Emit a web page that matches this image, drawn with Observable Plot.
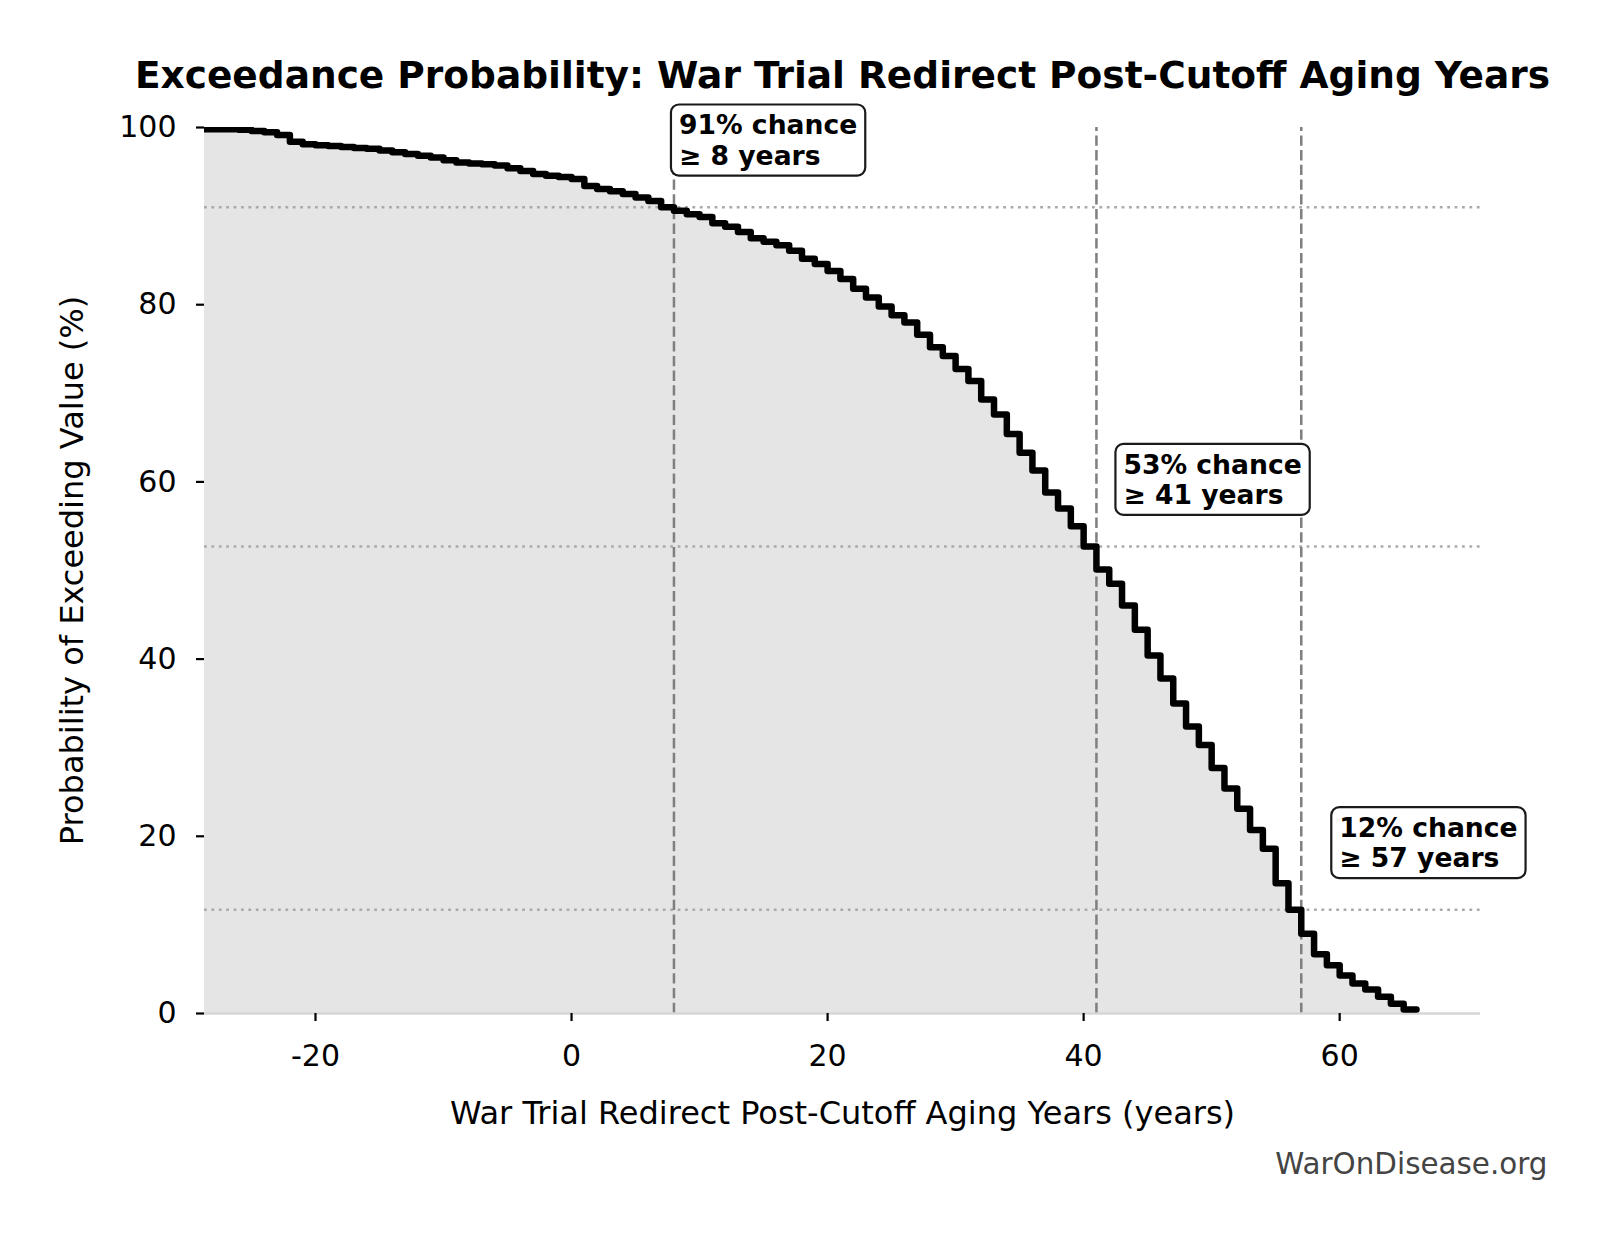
<!DOCTYPE html>
<html>
<head>
<meta charset="utf-8">
<script src="https://cdn.jsdelivr.net/npm/d3@7"></script>
<script src="https://cdn.jsdelivr.net/npm/@observablehq/plot@0.6"></script>
<style>
  html, body { margin: 0; padding: 0; background: #fff; }
</style>
</head>
<body>
<div id="chart"></div>
<script>
// ---- data ----
const years = [-29, -28, -27, -26, -25, -24, -23, -22, -21, -20, -19, -18, -17, -16, -15, -14, -13, -12, -11, -10,
  -9, -8, -7, -6, -5, -4, -3, -2, -1, 0, 1, 2, 3, 4, 5, 6, 7, 8, 9, 10,
  11, 12, 13, 14, 15, 16, 17, 18, 19, 20, 21, 22, 23, 24, 25, 26, 27, 28, 29, 30,
  31, 32, 33, 34, 35, 36, 37, 38, 39, 40, 41, 42, 43, 44, 45, 46, 47, 48, 49, 50,
  51, 52, 53, 54, 55, 56, 57, 58, 59, 60, 61, 62, 63, 64, 65, 66];
const probs = [99.8, 99.8, 99.8, 99.75, 99.6, 99.45, 99.15, 98.4, 98.1, 98.0, 97.9, 97.8, 97.7, 97.6, 97.4, 97.2, 97.0, 96.8, 96.6, 96.3,
  96.05, 95.95, 95.85, 95.7, 95.4, 95.1, 94.75, 94.55, 94.4, 94.2, 93.4, 93.05, 92.8, 92.5, 92.1, 91.7, 91.0, 90.6, 90.2, 89.9,
  89.2, 88.8, 88.2, 87.5, 87.1, 86.7, 86.1, 85.2, 84.6, 83.8, 82.9, 81.8, 80.8, 79.8, 78.8, 78.0, 76.6, 75.2, 74.2, 72.75,
  71.4, 69.3, 67.6, 65.4, 63.3, 61.3, 58.8, 57.0, 55.0, 52.7, 50.1, 48.5, 46.05, 43.3, 40.4, 37.8, 35.0, 32.4, 30.3, 27.7,
  25.4, 23.1, 20.7, 18.6, 14.7, 11.7, 9.0, 6.7, 5.45, 4.3, 3.4, 2.7, 1.9, 1.1, 0.45, 0.45];
const thresholdYears = [8, 41, 57];
const thresholdProbs = [91.0, 52.7, 11.7];
const thresholdLabels = ["91% chance\n≥ 8 years", "53% chance\n≥ 41 years", "12% chance\n≥ 57 years"];
const xTicks = [-20, 0, 20, 40, 60];
const yTicks = [0, 20, 40, 60, 80, 100];
const titleText = "Exceedance Probability: War Trial Redirect Post-Cutoff Aging Years";
const xLabel = "War Trial Redirect Post-Cutoff Aging Years (years)";
const yLabel = "Probability of Exceeding Value (%)";
const footer = "WarOnDisease.org";

// ---- build ----
const curve = years.map((x, i) => ({x, p: probs[i]}));
const ann = thresholdYears.map((x, i) => ({x, p: thresholdProbs[i], label: thresholdLabels[i]}));
const annDx = [5, 27, 38];
const FONT = "DejaVu Sans";

const chart = Plot.plot({
  width: 1606,
  height: 1234,
  marginTop: 127,
  marginBottom: 221,
  marginLeft: 204,
  marginRight: 126,
  style: {fontFamily: FONT, background: "white", color: "black", overflow: "visible"},
  x: {domain: [-28.67, 71.0]},
  y: {domain: [0, 100]},
  marks: [
    Plot.areaY(curve, {x: "x", y: "p", curve: "step-after", fill: "#e5e5e5", clip: true}),
    Plot.ruleY(ann, {y: "p", stroke: "#aaaaaa", strokeWidth: 2.5, strokeDasharray: "2.8,4.6"}),
    Plot.ruleX(ann, {x: "x", y1: 0, y2: 100, stroke: "#7f7f7f", strokeWidth: 2.5, strokeDasharray: "10.3,4.4"}),
    Plot.ruleY([0], {stroke: "#d6d6d6", strokeWidth: 2.5}),
    Plot.line(curve, {x: "x", y: "p", curve: "step-after", stroke: "black", strokeWidth: 6.5, clip: true}),
    Plot.axisX({ticks: xTicks, tickSize: 8, tickPadding: 23, fontSize: 30, strokeWidth: 2.2, label: null, tickFormat: d => String(d)}),
    Plot.axisY({ticks: yTicks, tickSize: 8, tickPadding: 20, fontSize: 30, strokeWidth: 2.2, label: null, tickFormat: d => String(d)}),
    ...ann.map((a, i) => Plot.text([a], {
      x: "x", y: d => d.p + 7.6, text: "label", textAnchor: "start", lineAnchor: "middle",
      dx: annDx[i], fontSize: 26.6, fontWeight: "bold", lineHeight: 1.13, fill: "black", className: "annot"
    })),
    Plot.text([titleText], {text: d => d, frameAnchor: "top", dy: -40, textAnchor: "middle", lineAnchor: "bottom", fontSize: 37.5, fontWeight: "bold", fill: "black"}),
    Plot.text([xLabel], {text: d => d, frameAnchor: "bottom", dy: 100, textAnchor: "middle", lineAnchor: "middle", fontSize: 32, fill: "black"}),
    Plot.text([yLabel], {text: d => d, frameAnchor: "left", dx: -132, rotate: -90, textAnchor: "middle", lineAnchor: "middle", fontSize: 32, fill: "black"}),
    Plot.text([footer], {text: d => d, frameAnchor: "bottom-right", dx: 67, dy: 160, textAnchor: "end", lineAnchor: "bottom", fontSize: 29.4, fill: "#444444"})
  ]
});

document.getElementById("chart").appendChild(chart);

// rounded white boxes behind annotation text
chart.querySelectorAll("g.annot text").forEach(t => {
  const b = t.getBBox();
  const padX = 8, padY = 5;
  const r = document.createElementNS("http://www.w3.org/2000/svg", "rect");
  r.setAttribute("x", b.x - padX);
  r.setAttribute("y", b.y - padY);
  r.setAttribute("width", b.width + 2 * padX);
  r.setAttribute("height", b.height + 2 * padY);
  r.setAttribute("rx", 8);
  r.setAttribute("ry", 8);
  r.setAttribute("fill", "white");
  r.setAttribute("stroke", "#1a1a1a");
  r.setAttribute("stroke-width", 2.2);
  const tr = t.getAttribute("transform");
  if (tr) r.setAttribute("transform", tr);
  t.parentNode.insertBefore(r, t);
});
</script>
</body>
</html>
